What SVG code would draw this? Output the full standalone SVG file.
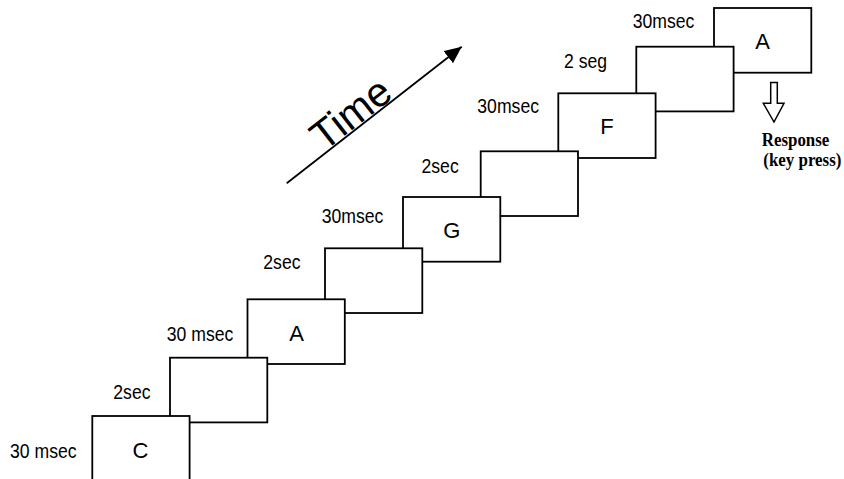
<svg xmlns="http://www.w3.org/2000/svg" width="844" height="479" viewBox="0 0 844 479">
<defs>
<style>
.box{fill:#fff;stroke:#000;stroke-width:1.8}
.lbl{font-family:"Liberation Sans",Arial,sans-serif;font-size:21px;fill:#000}
.ltr{font-family:"Liberation Sans",Arial,sans-serif;font-size:22px;fill:#000;text-anchor:middle}
.resp{font-family:"Liberation Serif","Times New Roman",serif;font-size:18px;font-weight:bold;fill:#000}
.time{font-family:"Liberation Sans",Arial,sans-serif;font-size:41px;fill:#000}
</style>
<marker id="ah" markerUnits="userSpaceOnUse" markerWidth="17" markerHeight="16" refX="17" refY="7.6" orient="auto">
<path d="M0,0 L17,7.6 L0,15.2 z" fill="#000"/>
</marker>
</defs>
<rect width="844" height="479" fill="#fff"/>
<g id="box9"><rect class="box" x="714" y="8" width="97.3" height="64.7"/><text class="ltr" x="762.5" y="49.3">A</text></g>
<g id="box8"><rect class="box" x="636.3" y="46.7" width="97.3" height="64.7"/></g>
<g id="box7"><rect class="box" x="558.3" y="93.3" width="97.3" height="64.7"/><text class="ltr" x="607" y="134">F</text></g>
<g id="box6"><rect class="box" x="480.7" y="151.3" width="97.3" height="64.7"/></g>
<g id="box5"><rect class="box" x="403" y="197" width="97.3" height="64.7"/><text class="ltr" x="451.7" y="238.3">G</text></g>
<g id="box4"><rect class="box" x="325" y="248.3" width="97.3" height="64.7"/></g>
<g id="box3"><rect class="box" x="247.5" y="299.3" width="97.3" height="64.7"/><text class="ltr" x="296.7" y="340.7">A</text></g>
<g id="box2"><rect class="box" x="170" y="357.7" width="97.3" height="64.7"/></g>
<g id="box1"><rect class="box" x="92.3" y="416" width="97.3" height="70"/><text class="ltr" x="140.5" y="457.7">C</text></g>
<g id="labels">
<text class="lbl" transform="translate(10,457.7) scale(0.84,1)">30 msec</text>
<text class="lbl" transform="translate(113.3,399.3) scale(0.84,1)">2sec</text>
<text class="lbl" transform="translate(166.7,340.7) scale(0.84,1)">30 msec</text>
<text class="lbl" transform="translate(263.3,269) scale(0.84,1)">2sec</text>
<text class="lbl" transform="translate(321.7,222.7) scale(0.84,1)">30msec</text>
<text class="lbl" transform="translate(421.5,172.7) scale(0.84,1)">2sec</text>
<text class="lbl" transform="translate(477.3,113.3) scale(0.84,1)">30msec</text>
<text class="lbl" transform="translate(564,68) scale(0.84,1)">2 seg</text>
<text class="lbl" transform="translate(632.7,28.3) scale(0.84,1)">30msec</text>
</g>
<g id="time-label"><text class="time" transform="translate(324,152) rotate(-38)">Time</text></g>
<g id="response"><text class="resp" transform="translate(761.7,146) scale(0.94,1)">Response</text><text class="resp" transform="translate(763.3,166) scale(0.94,1)">(key press)</text></g>
<g id="connectors">
<line x1="286.7" y1="183.3" x2="461.7" y2="46.7" stroke="#000" stroke-width="1.8" marker-end="url(#ah)"/>
<polygon points="770.7,82.5 777.3,82.5 777.3,103.3 784,103.3 774,122 763.3,103.3 770.7,103.3" fill="#fff" stroke="#000" stroke-width="1.5"/>
</g>
</svg>
